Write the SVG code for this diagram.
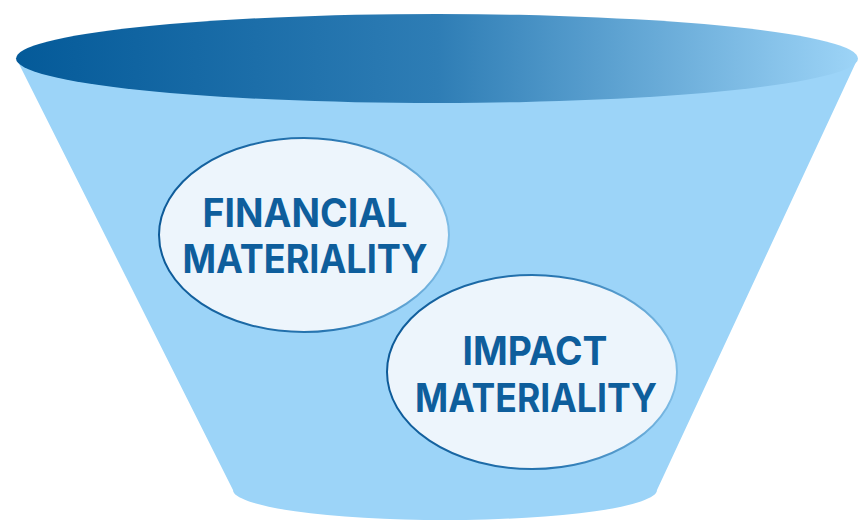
<svg xmlns="http://www.w3.org/2000/svg" width="858" height="520" viewBox="0 0 858 520">
  <defs>
    <linearGradient id="topGrad" x1="16" y1="0" x2="858" y2="0" gradientUnits="userSpaceOnUse">
      <stop offset="0" stop-color="#045a99"/>
      <stop offset="0.5" stop-color="#2e7db5"/>
      <stop offset="1" stop-color="#9dd4f7"/>
    </linearGradient>
    <linearGradient id="ringGrad" x1="0" y1="0" x2="1" y2="0">
      <stop offset="0" stop-color="#0d5a98"/>
      <stop offset="0.6" stop-color="#2a78b3"/>
      <stop offset="1" stop-color="#7fbde6"/>
    </linearGradient>
    <style>
      .body { fill: #9cd4f8; }
      .bubble { fill: #edf5fc; stroke: url(#ringGrad); stroke-width: 2; }
      .label { font-family: Inter, "Liberation Sans", sans-serif; font-weight: 700; font-size: 39px; fill: #0e5e9c; text-anchor: middle; }
    </style>
  </defs>
  <g id="funnel">
    <path class="body" d="M17,60 L233,490 A212,30 0 0 0 657,490 L857,60 Z"/>
    <ellipse id="funnel-top" cx="437" cy="58.5" rx="421" ry="44.5" fill="url(#topGrad)"/>
  </g>
  <g id="connectors"></g>
  <g id="financial-materiality">
    <ellipse class="bubble" cx="304" cy="235" rx="145" ry="97"/>
    <text class="label" x="305" y="227" textLength="205" lengthAdjust="spacingAndGlyphs">FINANCIAL</text>
    <text class="label" x="305" y="273" textLength="245" lengthAdjust="spacingAndGlyphs">MATERIALITY</text>
  </g>
  <g id="impact-materiality">
    <ellipse class="bubble" cx="532" cy="372" rx="145" ry="97"/>
    <text class="label" x="535" y="365" textLength="145" lengthAdjust="spacingAndGlyphs">IMPACT</text>
    <text class="label" x="536" y="412" textLength="242" lengthAdjust="spacingAndGlyphs">MATERIALITY</text>
  </g>
</svg>
